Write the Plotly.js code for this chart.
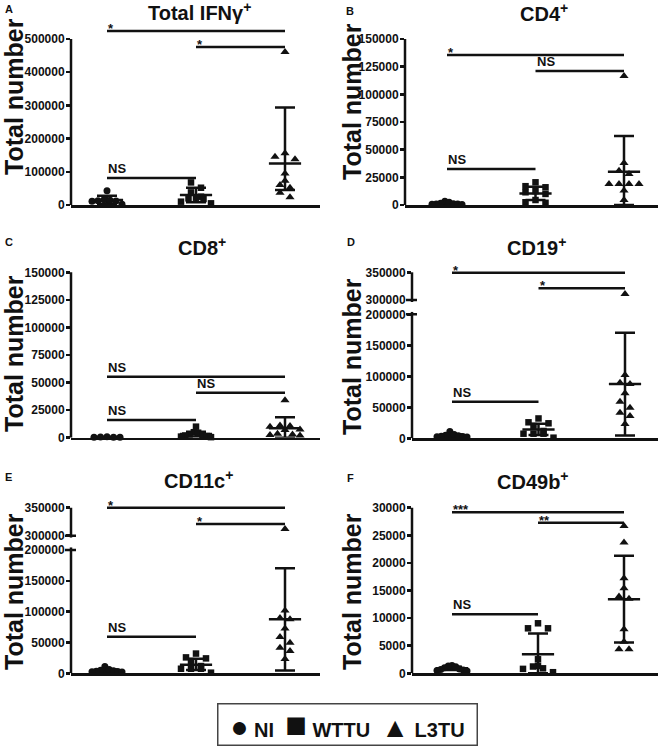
<!DOCTYPE html>
<html><head><meta charset="utf-8">
<script src="https://cdn.plot.ly/plotly-3.0.1.min.js"></script>
<style>html,body{margin:0;padding:0;background:#fff}</style>
</head><body>
<div id="chart" style="width:662px;height:749px"></div>
<script>
// ---------------- DATA ----------------
const groups = ['NI', 'WTTU', 'L3TU'];

const A_NI   = [43000, 16000, 14000, 13000, 12000, 11000, 2000];
const A_WTTU = [68000, 52000, 38000, 25000, 22000, 20000, 18000, 10000, 5000];
const A_L3TU = [461000, 156000, 145000, 138000, 95000, 73000, 60000, 52000, 37000, 23000];
const A_mean = [15000, 30000, 125000];
const A_upper = [28000, 52000, 294000];
const A_lower = [3000, 8000, 45000];
const A_sig = [[0, 2, 524000, '*'], [1, 2, 476000, '*'], [0, 1, 81300, 'NS']];

const B_NI   = [3500, 2500, 1500, 1200, 1000, 800, 600, 500];
const B_WTTU = [20500, 17000, 16000, 12500, 11500, 10000, 4500, 2500, 2000];
const B_L3TU = [116500, 38000, 31000, 28000, 19000, 19000, 19000, 19000, 13000, 4500];
const B_mean = [1400, 10500, 30100];
const B_upper = [2500, 16500, 62300];
const B_lower = [300, 4500, 0];
const B_sig = [[0, 2, 135500, '*'], [1, 2, 121100, 'NS'], [0, 1, 32500, 'NS']];

const C_NI   = [800, 600, 500, 400, 300];
const C_WTTU = [10000, 5000, 4500, 3000, 2500, 2000, 1500, 1000, 500];
const C_L3TU = [34000, 11000, 10500, 10000, 7500, 7000, 3500, 3000, 2500, 2000];
const C_mean = [500, 3300, 8500];
const C_upper = [700, 5500, 18500];
const C_lower = [300, 1000, 0];
const C_sig = [[0, 2, 55300, 'NS'], [1, 2, 40800, 'NS'], [0, 1, 16000, 'NS']];

const D_NI   = [11000, 6000, 5000, 4000, 3500, 3000, 2500, 2000];
const D_WTTU = [32000, 25800, 24200, 19800, 11800, 7400, 7400, 7400, 1000];
const D_L3TU = [310800, 102000, 89700, 87600, 72600, 59000, 49400, 41300, 36000, 23100];
const D_mean = [4000, 14000, 87600];
const D_upper = [6000, 23500, 170300];
const D_lower = [2000, 5300, 4500];
const D_sig = [[0, 2, 349300, '*'], [1, 2, 321000, '*'], [0, 1, 59000, 'NS']];

const E_NI   = [11000, 6000, 5000, 4000, 3500, 3000, 2500, 2000];
const E_WTTU = [32000, 25800, 24200, 19800, 11800, 7400, 7400, 7400, 1000];
const E_L3TU = [312000, 102000, 89700, 87600, 72600, 59000, 49400, 41300, 36000, 23100];
const E_mean = [4000, 14000, 87600];
const E_upper = [6000, 23500, 170300];
const E_lower = [2000, 5300, 4500];
const E_sig = [[0, 2, 350000, '*'], [1, 2, 320900, '*'], [0, 1, 59400, 'NS']];

const F_NI   = [1400, 1300, 1200, 1000, 800, 700, 600, 500, 400];
const F_WTTU = [9060, 8150, 8150, 2540, 1330, 1230, 900, 800, 200];
const F_L3TU = [26700, 23700, 17200, 15400, 13900, 13500, 8000, 5700, 4350, 4350];
const F_mean = [900, 3440, 13400];
const F_upper = [1200, 7200, 21300];
const F_lower = [600, 0, 5600];
const F_sig = [[0, 2, 29170, '***'], [1, 2, 27280, '**'], [0, 1, 10690, 'NS']];

const panelTitles = ['Total IFNγ<sup>+</sup>', 'CD4<sup>+</sup>', 'CD8<sup>+</sup>', 'CD19<sup>+</sup>', 'CD11c<sup>+</sup>', 'CD49b<sup>+</sup>'];
const panelLetters = ['A', 'B', 'C', 'D', 'E', 'F'];
const yTitle = 'Total number';

// ---------------- LAYOUT CONFIG (pixel geometry) ----------------
const W = 662, H = 749;
const FONT = '"Liberation Sans", Arial, Helvetica, sans-serif';
const INK = '#111';
const SYM = ['circle', 'square', 'triangle-up'];
const MSIZE = [7, 6.5, 8];
const GAP = [6.5, 10, 10];
const ROW_MAX_W = 30;

const panels = [
  {data: [A_NI, A_WTTU, A_L3TU], mean: A_mean, up: A_upper, lo: A_lower, sig: A_sig,
   xPx: [71, 320], gPx: [107, 285], zeroPx: 205, tickPx: 39, tickVal: 500000, dtick: 100000, topPx: 14,
   titlePos: [199, 12], letterPos: [9, 9], yTitlePos: [14, 97]},
  {data: [B_NI, B_WTTU, B_L3TU], mean: B_mean, up: B_upper, lo: B_lower, sig: B_sig,
   xPx: [405, 658], gPx: [447, 624], zeroPx: 205, tickPx: 39, tickVal: 150000, dtick: 25000, topPx: 30,
   titlePos: [544, 13], letterPos: [350, 11], yTitlePos: [352, 102]},
  {data: [C_NI, C_WTTU, C_L3TU], mean: C_mean, up: C_upper, lo: C_lower, sig: C_sig,
   xPx: [71, 320], gPx: [107, 285], zeroPx: 437.7, tickPx: 272.3, tickVal: 150000, dtick: 25000, topPx: 265,
   titlePos: [202, 247], letterPos: [9, 242], yTitlePos: [14, 354]},
  {data: [D_NI, D_WTTU, D_L3TU], mean: D_mean, up: D_upper, lo: D_lower, sig: D_sig,
   xPx: [412, 658], gPx: [452, 625], zeroPx: 438.3, tickPx: 314.3, tickVal: 200000, dtick: 50000, topPx: 311.7,
   broken: {v1: 300000, v2: 350000, v1Px: 300, v2Px: 272.3, botPx: 302, topPx: 262},
   titlePos: [536, 247], letterPos: [351, 242], yTitlePos: [352, 357]},
  {data: [E_NI, E_WTTU, E_L3TU], mean: E_mean, up: E_upper, lo: E_lower, sig: E_sig,
   xPx: [71, 320], gPx: [107, 285], zeroPx: 673.3, tickPx: 550, tickVal: 200000, dtick: 50000, topPx: 547.3,
   broken: {v1: 300000, v2: 350000, v1Px: 535.7, v2Px: 507.7, botPx: 537.7, topPx: 497},
   titlePos: [198, 479], letterPos: [8, 477], yTitlePos: [14, 592]},
  {data: [F_NI, F_WTTU, F_L3TU], mean: F_mean, up: F_upper, lo: F_lower, sig: F_sig,
   xPx: [412, 658], gPx: [452, 624], zeroPx: 673.3, tickPx: 507.7, tickVal: 30000, dtick: 5000, topPx: 500,
   titlePos: [533, 480], letterPos: [350, 478], yTitlePos: [352, 592]}
];

// beeswarm-like horizontal spreading (GraphPad style rows, highest values in the middle)
function swarm(vals, pxPerY, pxPerX, gapPx, rowPx) {
  const idx = vals.map((v, i) => i).sort((a, b) => vals[a] - vals[b]);
  const off = new Array(vals.length).fill(0);
  let row = [];
  const flush = () => {
    const n = row.length;
    const g = n > 1 ? Math.min(gapPx, ROW_MAX_W / (n - 1)) : 0;
    // slot order from the centre outwards
    const slots = [];
    for (let j = 0; j < n; j++) slots.push(j - (n - 1) / 2);
    slots.sort((a, b) => Math.abs(a) - Math.abs(b) || a - b);
    const byVal = row.slice().sort((a, b) => vals[b] - vals[a]);
    byVal.forEach((k, j) => { off[k] = slots[j] * g / pxPerX; });
    row = [];
  };
  idx.forEach(k => {
    if (row.length && (vals[k] - vals[row[0]]) * pxPerY > rowPx) flush();
    row.push(k);
  });
  flush();
  return off;
}

const traces = [], shapes = [], annotations = [];
const layout = {
  width: W, height: H, margin: {l: 0, r: 0, t: 0, b: 0},
  paper_bgcolor: '#fff', plot_bgcolor: 'rgba(0,0,0,0)', showlegend: false,
  font: {family: FONT, color: INK, weight: 'bold'}
};
const tickfont = {family: FONT, size: 12, color: INK, weight: 'bold'};
const nid = n => (n === 1 ? '' : String(n));
let yCount = 0;

// y-axis titles first so tick labels draw over them
panels.forEach((p) => {
  annotations.push({xref: 'paper', yref: 'paper', x: p.yTitlePos[0] / W, y: 1 - p.yTitlePos[1] / H,
    xanchor: 'center', yanchor: 'middle', showarrow: false, text: yTitle, textangle: -90,
    font: {family: FONT, size: 25, color: INK, weight: 'bold'}});
});

panels.forEach((p, pi) => {
  const xn = pi + 1;
  const xId = 'x' + nid(xn);
  const yLowNum = ++yCount;
  const yLowId = 'y' + nid(yLowNum);
  let yUpNum = null, yUpId = null;
  if (p.broken) { yUpNum = ++yCount; yUpId = 'y' + yUpNum; }

  const sp = (p.gPx[1] - p.gPx[0]) / 2;
  const xr = [-(p.gPx[0] - p.xPx[0]) / sp, 2 + (p.xPx[1] - p.gPx[1]) / sp];
  layout['xaxis' + nid(xn)] = {
    domain: [p.xPx[0] / W, p.xPx[1] / W], range: xr, anchor: yLowId,
    showline: true, linewidth: 2.5, linecolor: INK, showticklabels: false, ticks: '',
    showgrid: false, zeroline: false, fixedrange: true
  };

  const upp = p.tickVal / (p.zeroPx - p.tickPx);
  const rTop = (p.zeroPx - p.topPx) * upp;
  const tv = [];
  for (let v = 0; v <= p.tickVal + 1e-6; v += p.dtick) tv.push(v);
  const yCommon = {anchor: xId, showline: false, tickformat: 'd', ticks: 'outside', ticklen: 4, tickwidth: 2.5,
    ticklabelstandoff: -1, tickcolor: INK, tickfont: tickfont, showgrid: false, zeroline: false, fixedrange: true};
  layout['yaxis' + nid(yLowNum)] = Object.assign({
    domain: [1 - p.zeroPx / H, 1 - p.topPx / H], range: [0, rTop], tickvals: tv}, yCommon);
  shapes.push({type: 'line', xref: xId + ' domain', yref: yLowId, x0: 0, x1: 0, y0: 0,
    y1: p.broken ? rTop : p.tickVal, line: {color: INK, width: 2.5}});

  let split = Infinity;
  if (p.broken) {
    const b = p.broken;
    const upp2 = (b.v2 - b.v1) / (b.v1Px - b.v2Px);
    const rb = b.v1 - (b.botPx - b.v1Px) * upp2;
    const rt = b.v2 + (b.v2Px - b.topPx) * upp2;
    split = (rTop + rb) / 2;
    layout['yaxis' + yUpNum] = Object.assign({
      domain: [1 - b.botPx / H, 1 - b.topPx / H], range: [rb, rt], tickvals: [b.v1, b.v2]}, yCommon);
    shapes.push({type: 'line', xref: xId + ' domain', yref: yUpId, x0: 0, x1: 0, y0: rb, y1: b.v2,
      line: {color: INK, width: 2.5}});
    const wpx = p.xPx[1] - p.xPx[0];
    shapes.push({type: 'line', xref: xId + ' domain', yref: yUpId, x0: -6 / wpx, x1: 5 / wpx, y0: b.v1, y1: b.v1,
      line: {color: INK, width: 2.5}});
    shapes.push({type: 'line', xref: xId + ' domain', yref: yLowId, x0: -6 / wpx, x1: 5 / wpx, y0: p.tickVal, y1: p.tickVal,
      line: {color: INK, width: 2.5}});
  }

  // mean + error bars
  traces.push({
    type: 'scatter', mode: 'markers', x: [0, 1, 2], y: p.mean, xaxis: xId, yaxis: yLowId,
    marker: {symbol: 'line-ew', size: 23, color: INK, line: {color: INK, width: 2.5}},
    error_y: {type: 'data', symmetric: false,
      array: p.mean.map((m, i) => p.up[i] - m), arrayminus: p.mean.map((m, i) => m - p.lo[i]),
      color: INK, thickness: 2.5, width: 10},
    cliponaxis: false, hoverinfo: 'skip'
  });

  // points
  const pxPerY = 1 / upp;
  p.data.forEach((vals, g) => {
    const offs = swarm(vals, pxPerY, sp, GAP[g], 6);
    const lowI = vals.map((v, i) => i).filter(i => vals[i] <= split);
    const upI = vals.map((v, i) => i).filter(i => vals[i] > split);
    [[lowI, yLowId], [upI, yUpId]].forEach(([ids, yid]) => {
      if (!ids.length) return;
      traces.push({
        type: 'scatter', mode: 'markers', name: groups[g],
        x: ids.map(i => g + offs[i]), y: ids.map(i => vals[i]), xaxis: xId, yaxis: yid,
        marker: {symbol: SYM[g], size: MSIZE[g], color: INK, line: {width: 0}},
        cliponaxis: false, hoverinfo: 'skip'
      });
    });
  });

  // significance bars
  p.sig.forEach(([a, b, lvl, lab]) => {
    const yid = lvl > split ? yUpId : yLowId;
    shapes.push({type: 'line', xref: xId, yref: yid, x0: a, x1: b, y0: lvl, y1: lvl,
      line: {color: INK, width: 2.5}});
    annotations.push({xref: xId, yref: yid, x: a, y: lvl, text: lab, showarrow: false,
      xanchor: 'left', yanchor: 'bottom', xshift: -1, yshift: lab.indexOf('*') >= 0 ? -7 : 0,
      font: {family: FONT, size: 13, color: INK, weight: 'bold'}});
  });

  // titles
  annotations.push({xref: 'paper', yref: 'paper', x: p.titlePos[0] / W, y: 1 - p.titlePos[1] / H,
    xanchor: 'center', yanchor: 'middle', showarrow: false, text: panelTitles[pi],
    font: {family: FONT, size: 20, color: INK, weight: 'bold'}});
  annotations.push({xref: 'paper', yref: 'paper', x: p.letterPos[0] / W, y: 1 - p.letterPos[1] / H,
    xanchor: 'center', yanchor: 'middle', showarrow: false, text: panelLetters[pi],
    font: {family: FONT, size: 11, color: INK, weight: 'bold'}});
});

// legend box
annotations.push({xref: 'paper', yref: 'paper', x: 348 / W, y: 1 - 724 / H, xanchor: 'center', yanchor: 'middle',
  showarrow: false, bordercolor: '#444', borderwidth: 1.5, borderpad: 0, width: 258, height: 40,
  text: '<span style="font-size:30px">●</span> ' + groups[0] + '  <span style="font-size:36px">■</span> ' + groups[1] +
        '  <span style="font-size:28px">▲</span> ' + groups[2],
  font: {family: FONT, size: 20, color: INK, weight: 'bold'}});

layout.shapes = shapes;
layout.annotations = annotations;
Plotly.newPlot('chart', traces, layout, {staticPlot: true, displayModeBar: false});
</script>
</body></html>
